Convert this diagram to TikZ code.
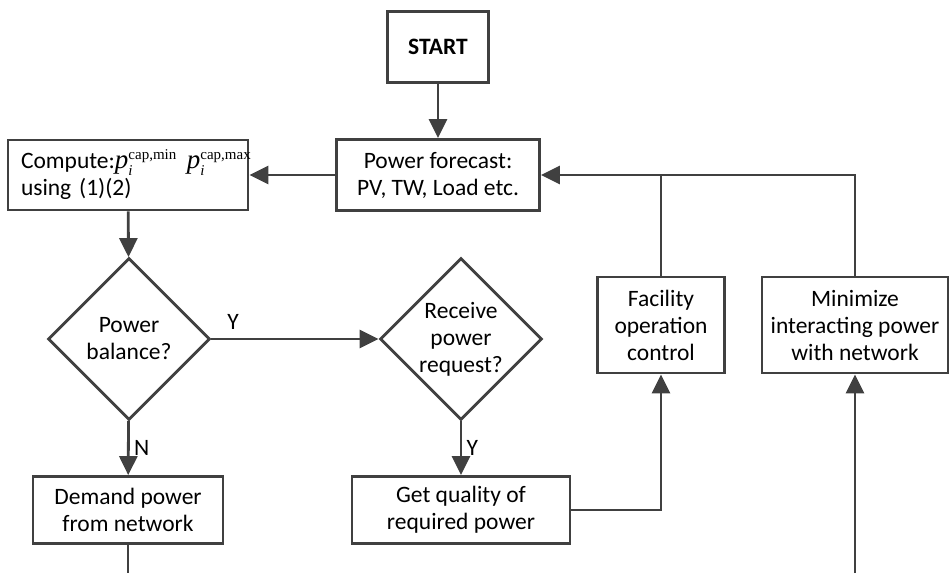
\documentclass[tikz,border=0pt]{standalone}
\usepackage{fontspec}
\setmainfont{Carlito}
\newfontfamily\tms{Liberation Serif}
\usetikzlibrary{shapes.geometric,arrows.meta}
\definecolor{ln}{HTML}{404040}
\newcommand{\pcap}[1]{{\fontsize{27}{27}\selectfont\tms\itshape p}$_{\mbox{\fontsize{15}{15}\selectfont\tms\itshape i}}^{\mbox{\fontsize{15}{15}\selectfont\tms cap,#1}}$}
\tikzset{
	blk/.style={draw=ln,line width=2.8pt,align=center,inner sep=2pt,font=\fontsize{23.5}{27}\selectfont},
	dec/.style={draw=ln,line width=2.8pt,diamond,aspect=1,inner sep=0pt,minimum size=162pt},
	flow/.style={draw=ln,line width=2.8pt,-{Triangle[length=19pt,width=18pt]}},
	lbl/.style={font=\fontsize{23.5}{27}\selectfont}
}

\begin{document}
\begin{tikzpicture}[x=1pt,y=-1pt]
	\useasboundingbox (0,0) rectangle (950,573);
	\foreach \N/\X/\Y/\W/\H/\T in {start/438/47/101/71/{\textbf{START}},
		forecast/438/175/203/71/{Power forecast:\\PV, TW, Load etc.},
		demand/128/510/190/67/{Demand power\\from network},
		quality/461/510/218/67/{Get quality of\\required power},
		facility/661/325/127/96/{Facility\\operation\\control},
		minimize/855/325/186/96/{Minimize\\interacting power\\with network}}
	{\node[blk,minimum width=\W pt,minimum height=\H pt] (\N) at (\X,\Y) {\T};}
	\node[blk,align=left,text width=214pt,inner xsep=13pt,minimum height=70pt] (compute) at (128,175)
		{\mbox{Compute:\pcap{min}\hspace{10pt}\pcap{max}}\\using (1)(2)};
	\node[dec,label={[lbl,align=center]center:Power\\balance?}] (bal) at (129,339) {};
	\node[dec,label={[lbl,align=center]center:Receive\\power\\request?}] (req) at (461,339) {};
	\coordinate (dn) at (128,573);
	\coordinate (up) at (855,573);
	\draw[flow] (start) -- (forecast);
	\draw[flow] (forecast) -- (compute);
	\draw[flow] (compute) -- (bal);
	\draw[flow] (bal) -- node[lbl,pos=0.13,above=5pt] {Y} (req);
	\draw[flow] (bal) -- node[lbl,right=1pt] {N} (demand);
	\draw[flow] (req) -- node[lbl,right=1pt] {Y} (quality);
	\draw[flow] (quality) -| (facility);
	\draw[flow] (facility) |- (forecast);
	\draw[draw=ln,line width=2.8pt] (minimize) |- (facility.north |- forecast.east);
	\draw[draw=ln,line width=2.8pt] (demand) -- (dn);
	\draw[flow] (up) -- (minimize);
\end{tikzpicture}
\end{document}
